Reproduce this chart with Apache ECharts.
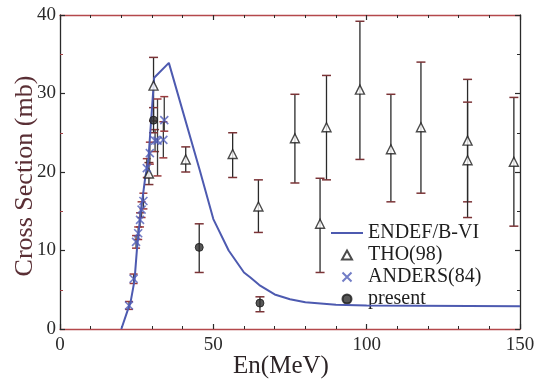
<!DOCTYPE html>
<html>
<head>
<meta charset="utf-8">
<script src="https://cdn.jsdelivr.net/npm/echarts@6/dist/echarts.min.js"></script>
<style>
  html, body { margin: 0; padding: 0; background: #fff; }
  #chart { width: 542px; height: 382px; }
</style>
</head>
<body>
<div id="chart"></div>
<script>
// ENDF/B-VI evaluated cross section (MeV, mb)
const endfE  = [20, 22, 23, 24.3, 25.1, 26.2, 27.8, 28.8, 30.7, 35.5, 45.6, 50, 55, 60, 62, 65, 70, 75, 80, 90, 100, 150];
const endfXS = [0, 2.3, 3.4, 6.2, 10.2, 14.5, 19.3, 21.5, 32.0, 33.9, 20.2, 14.0, 10.0, 7.2, 6.6, 5.6, 4.4, 3.8, 3.4, 3.1, 3.0, 2.9];

// THO(98) measurements with error ranges
const thoE  = [29.0, 30.5, 41.0, 56.3, 64.7, 76.6, 84.8, 86.9, 97.8, 107.9, 117.7, 132.9, 132.9, 148.0];
const thoXS = [19.8, 31.0, 21.6, 22.3, 15.6, 24.3, 13.4, 25.7, 30.5, 22.9, 25.7, 24.0, 21.5, 21.3];
const thoLo = [18.4, 26.5, 20.0, 19.3, 12.3, 18.6, 7.2, 19.0, 21.6, 16.2, 17.3, 16.2, 14.2, 13.1];
const thoHi = [21.2, 34.6, 23.2, 25.0, 19.0, 29.9, 19.2, 32.3, 39.2, 29.9, 34.0, 31.8, 28.9, 29.5];

// ANDERS(84) measurements with error ranges
const andE  = [22.5, 24.0, 24.8, 25.5, 26.1, 26.6, 27.2, 28.3, 29.3, 31.0, 31.8, 33.7, 34.0];
const andXS = [3.0, 6.4, 11.1, 12.2, 13.9, 15.2, 16.3, 20.5, 22.4, 24.0, 24.0, 24.1, 26.6];
const andLo = [2.5, 5.8, 10.3, 11.4, 13.0, 14.2, 15.3, 19.3, 21.0, 22.6, 19.5, 21.8, 25.2];
const andHi = [3.5, 7.0, 11.9, 13.0, 14.8, 16.2, 17.3, 21.7, 23.8, 25.4, 29.3, 26.4, 29.6];

// present work
const preE  = [30.5, 45.4, 65.2];
const preXS = [26.6, 10.4, 3.3];
const preLo = [25.0, 7.2, 2.2];
const preHi = [28.2, 13.4, 4.1];

// axis ticks
const xMin = 0, xMax = 150, xStep = 50;
const yMin = 0, yMax = 40, yStep = 10;

const FONT = '"Liberation Serif", "DejaVu Serif", serif';

function zip2(a, b) { return a.map((v, i) => [v, b[i]]); }
function zip3(a, b, c) { return a.map((v, i) => [v, b[i], c[i]]); }

// vertical error bar with short caps, placed through the axis scales
function errorBars(capHalf, lineColor, capColor) {
  return function (params, api) {
    const x = api.value(0);
    const lo = api.coord([x, api.value(1)]);
    const hi = api.coord([x, api.value(2)]);
    return {
      type: 'group',
      children: [
        { type: 'line', shape: { x1: lo[0], y1: lo[1], x2: hi[0], y2: hi[1] },
          style: { stroke: lineColor, lineWidth: 1.3 } },
        { type: 'line', shape: { x1: hi[0] - capHalf, y1: hi[1], x2: hi[0] + capHalf, y2: hi[1] },
          style: { stroke: capColor, lineWidth: 1.5 } },
        { type: 'line', shape: { x1: lo[0] - capHalf, y1: lo[1], x2: lo[0] + capHalf, y2: lo[1] },
          style: { stroke: capColor, lineWidth: 1.5 } }
      ]
    };
  };
}

// symbol shapes (paths keep their aspect ratio in the legend)
const crossPath = 'path://M0,0L10,10M10,0L0,10';
const trianglePath = 'path://M5,0L10,9L0,9Z';
const lineSwatch = 'path://M0,0L32,0L32,2L0,2Z';

const frameX = '#b4484b';
const frameY = '#2a2a2a';

function frame(lineColor, tickColor, minorColor, minorSplit) {
  return {
    axisLine: { show: true, onZero: false, lineStyle: { color: lineColor, width: 1.3 } },
    axisTick: { show: true, inside: true, length: 5, lineStyle: { color: tickColor, width: 1.2 } },
    minorTick: { show: true, splitNumber: minorSplit, length: 3, lineStyle: { color: minorColor, width: 1 } },
    splitLine: { show: false }
  };
}

const chart = echarts.init(document.getElementById('chart'), null, { renderer: 'canvas' });

chart.setOption({
  animation: false,
  backgroundColor: '#ffffff',
  grid: { left: 60, right: 22, top: 15, bottom: 53, containLabel: false, outerBoundsMode: 'none' },
  xAxis: [
    Object.assign({
      type: 'value', min: xMin, max: xMax, interval: xStep, position: 'bottom',
      name: 'En(MeV)', nameLocation: 'middle', nameGap: 25, nameMoveOverlap: false,
      nameTextStyle: { fontFamily: FONT, fontSize: 25, color: '#2c2426', padding: [0, 18, 0, 0] },
      axisLabel: { fontFamily: FONT, fontSize: 19, color: '#2a2a2a', margin: 7 }
    }, frame(frameX, frameY, frameY, 5)),
    Object.assign({
      type: 'value', min: xMin, max: xMax, interval: xStep, position: 'top',
      axisLabel: { show: false }
    }, frame(frameX, frameY, frameY, 5))
  ],
  yAxis: [
    Object.assign({
      type: 'value', min: yMin, max: yMax, interval: yStep, position: 'left',
      name: 'Cross Section (mb)', nameLocation: 'middle', nameGap: 22, nameRotate: 90, nameMoveOverlap: false,
      nameTextStyle: { fontFamily: FONT, fontSize: 26, color: '#5a2f35', padding: [0, 8, 0, 0] },
      axisLabel: { fontFamily: FONT, fontSize: 19, color: '#2a2a2a', margin: 4 }
    }, frame(frameY, frameY, '#a04044', 2)),
    Object.assign({
      type: 'value', min: yMin, max: yMax, interval: yStep, position: 'right',
      axisLabel: { show: false }
    }, frame(frameY, frameY, frameY, 2))
  ],
  legend: {
    orient: 'vertical',
    left: 331, top: 223, padding: 0,
    itemWidth: 32, itemHeight: 9, itemGap: 2,
    symbolKeepAspect: true,
    textStyle: { fontFamily: FONT, fontSize: 20, color: '#1e1e1e' },
    data: [
      { name: 'ENDEF/B-VI', icon: lineSwatch },
      { name: 'THO(98)', icon: trianglePath },
      { name: 'ANDERS(84)', icon: crossPath },
      { name: 'present', icon: 'circle' }
    ]
  },
  series: [
    {
      name: 'THO(98) err', type: 'custom', renderItem: errorBars(4.5, '#2a2a2a', '#7b3336'),
      data: zip3(thoE, thoLo, thoHi), encode: { x: 0, y: [1, 2] }, z: 2, silent: true
    },
    {
      name: 'ANDERS(84) err', type: 'custom', renderItem: errorBars(4, '#3a3a3a', '#9a3a3c'),
      data: zip3(andE, andLo, andHi), encode: { x: 0, y: [1, 2] }, z: 2, silent: true
    },
    {
      name: 'present err', type: 'custom', renderItem: errorBars(4.5, '#2a2a2a', '#7b3336'),
      data: zip3(preE, preLo, preHi), encode: { x: 0, y: [1, 2] }, z: 2, silent: true
    },
    {
      name: 'ENDEF/B-VI', type: 'line', data: zip2(endfE, endfXS),
      showSymbol: false, symbol: 'none', smooth: false,
      lineStyle: { color: '#4d5ab0', width: 2 }, itemStyle: { color: '#4d5ab0' }, z: 4
    },
    {
      name: 'THO(98)', type: 'scatter', data: zip2(thoE, thoXS),
      symbol: 'triangle', symbolSize: 9,
      itemStyle: { color: '#ffffff', borderColor: '#1e1e1e', borderWidth: 1.4 }, z: 5
    },
    {
      name: 'ANDERS(84)', type: 'scatter', data: zip2(andE, andXS),
      symbol: crossPath, symbolSize: 8,
      itemStyle: { color: 'none', borderColor: '#4f5cb8', borderWidth: 1.6 }, z: 5
    },
    {
      name: 'present', type: 'scatter', data: zip2(preE, preXS),
      symbol: 'circle', symbolSize: 8,
      itemStyle: { color: '#2e2e2e', borderColor: '#1a1a1a', borderWidth: 1 }, z: 6
    }
  ]
});
</script>
</body>
</html>
